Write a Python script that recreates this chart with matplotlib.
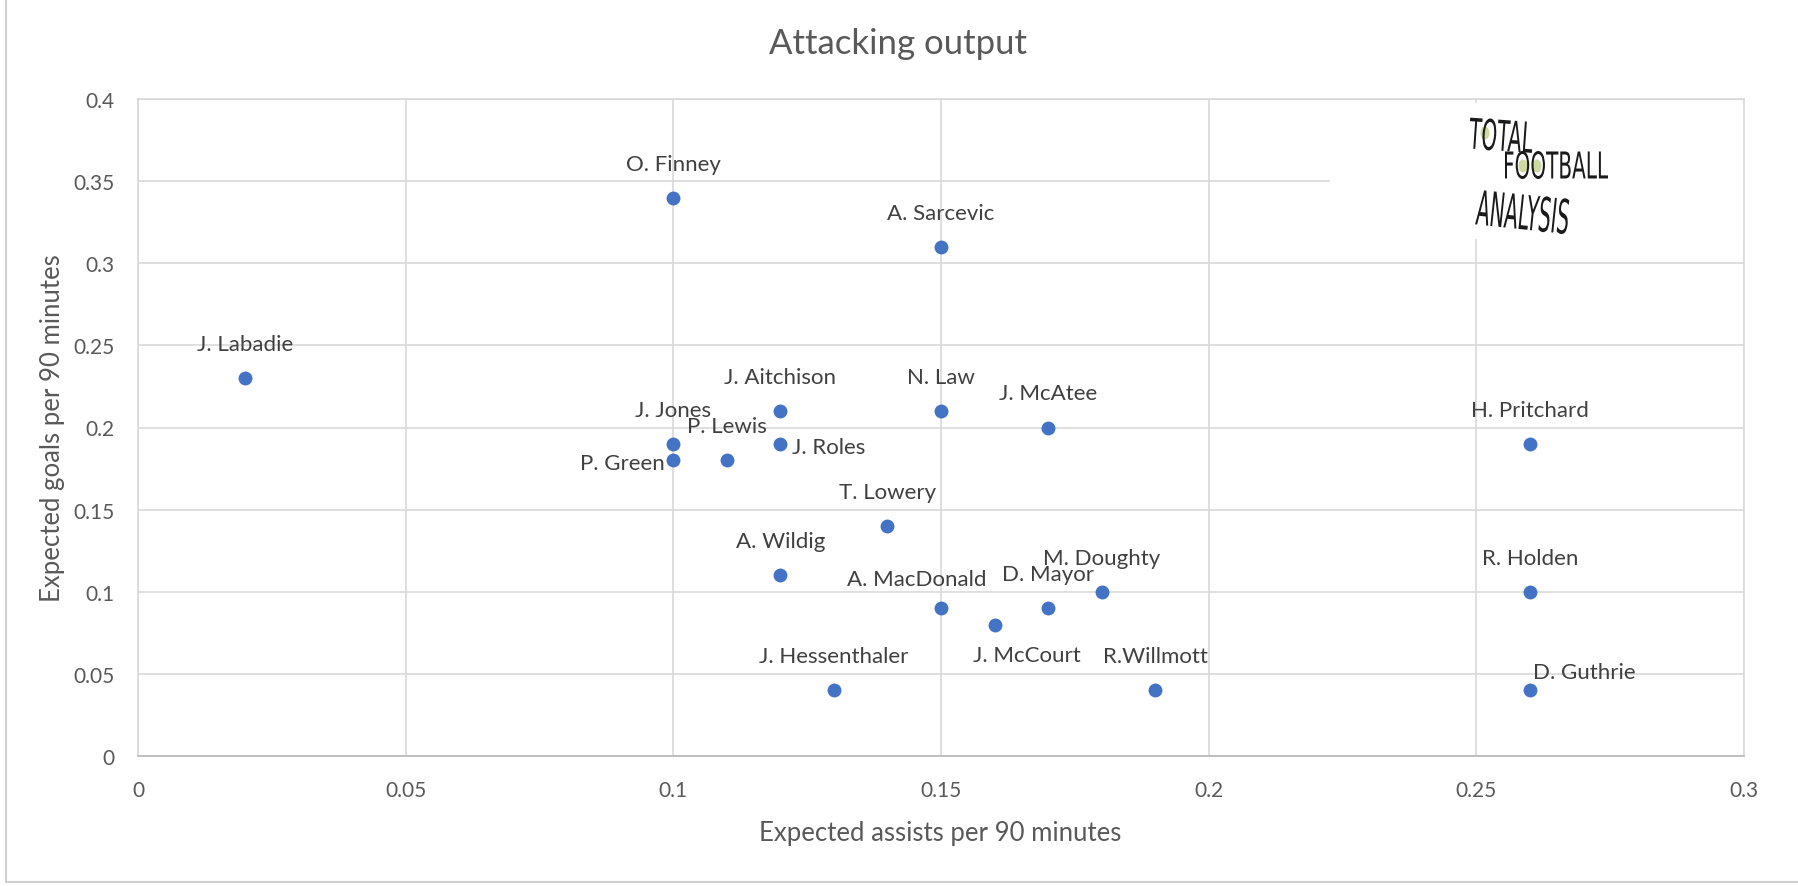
import matplotlib
matplotlib.use("Agg")
import matplotlib.pyplot as plt
from matplotlib.patches import Rectangle, PathPatch, Ellipse
from matplotlib.textpath import TextPath
from matplotlib.font_manager import FontProperties
from matplotlib.transforms import Affine2D
from matplotlib.lines import Line2D

# ---- data ----
players = ["J. Labadie", "O. Finney", "A. Sarcevic", "J. Aitchison", "N. Law",
           "J. McAtee", "H. Pritchard", "J. Jones", "P. Lewis", "J. Roles",
           "P. Green", "T. Lowery", "A. Wildig", "A. MacDonald", "D. Mayor",
           "M. Doughty", "J. McCourt", "R. Holden", "J. Hessenthaler",
           "R.Willmott", "D. Guthrie"]
xa = [0.02, 0.10, 0.15, 0.12, 0.15, 0.17, 0.26, 0.10, 0.11, 0.12,
      0.10, 0.14, 0.12, 0.15, 0.17, 0.18, 0.16, 0.26, 0.13, 0.19, 0.26]
xg = [0.23, 0.34, 0.31, 0.21, 0.21, 0.20, 0.19, 0.19, 0.18, 0.19,
      0.18, 0.14, 0.11, 0.09, 0.09, 0.10, 0.08, 0.10, 0.04, 0.04, 0.04]
xticks = [0, 0.05, 0.1, 0.15, 0.2, 0.25, 0.3]
xtick_labels = ["0", "0.05", "0.1", "0.15", "0.2", "0.25", "0.3"]
yticks = [0, 0.05, 0.1, 0.15, 0.2, 0.25, 0.3, 0.35, 0.4]
ytick_labels = ["0", "0.05", "0.1", "0.15", "0.2", "0.25", "0.3", "0.35", "0.4"]

# label placement (offset pixels, alignment) - layout only
label_layout = {
    "P. Green": (-9, -3, "right"),
    "J. Roles": (12, -3, "left"),
    "A. MacDonald": (-24, 29, "center"),
    "J. McCourt": (32, -30, "center"),
    "D. Guthrie": (54, 18, "center"),
}

FONT = ["Lato", "DejaVu Sans"]
plt.rcParams["font.family"] = FONT

W, H = 1798, 887
fig = plt.figure(figsize=(W / 100, H / 100), dpi=100)
fig.patch.set_facecolor("white")

left, right, top, bottom = 138, 1744, 100, 757
ax = fig.add_axes([left / W, 1 - bottom / H, (right - left) / W, (bottom - top) / H])
ax.set_xlim(0, 0.3)
ax.set_ylim(0, 0.4)
ax.set_xticks(xticks)
ax.set_xticklabels(xtick_labels)
ax.set_yticks(yticks)
ax.set_yticklabels(ytick_labels)
ax.tick_params(length=0, labelsize=15, labelcolor="#595959")
ax.tick_params(axis="x", pad=17)
ax.tick_params(axis="y", pad=17)
ax.grid(True, color="#d9d9d9", linewidth=1.2, zorder=0)
ax.set_axisbelow(True)
for s in ["top", "right", "left"]:
    ax.spines[s].set_color("#d9d9d9")
    ax.spines[s].set_linewidth(1.2)
ax.spines["bottom"].set_color("#bfbfbf")
ax.spines["bottom"].set_linewidth(1.4)

# white box behind logo (covers gridlines)
ax.add_patch(Rectangle((0.7425, 0.787), 0.26, 0.207, transform=ax.transAxes,
                       facecolor="white", edgecolor="none", zorder=1, clip_on=False))

ax.scatter(xa, xg, s=100, color="#4472C4", zorder=3, linewidths=0)

for name, x, y in zip(players, xa, xg):
    dx, dy, ha = label_layout.get(name, (0, 34, "center"))
    ax.annotate(name, (x, y), xytext=(dx, dy), textcoords="offset pixels",
                ha=ha, va="center", fontsize=16, color="#404040", zorder=4)

ax.set_xlabel("Expected assists per 90 minutes", fontsize=18.5, color="#595959")
ax.xaxis.set_label_coords((940 - left) / (right - left), -(821 - bottom) / (bottom - top))
ax.set_ylabel("Expected goals per 90 minutes", fontsize=18.5, color="#595959")
ax.yaxis.set_label_coords(-(left - 65) / (right - left), (bottom - 428) / (bottom - top))

fig.text(898 / W, 1 - 44 / H, "Attacking output", ha="center", va="center",
         fontsize=25, color="#595959")

# chart border lines (left and bottom)
fig.add_artist(Line2D([6 / W, 6 / W], [4 / H, 1.0], color="#d0d0d0", lw=1.5))
fig.add_artist(Line2D([6 / W, 1.0], [4 / H, 4 / H], color="#d0d0d0", lw=1.5))

# logo drawn as squashed text paths (pixel coordinates)
pix = Affine2D().scale(1, -1).translate(0, H)  # top-left pixel coords -> display
for cx, cy in [(1485, 134), (1523, 167), (1537, 167)]:
    fig.add_artist(Ellipse((cx, cy), 9, 13, transform=pix,
                           facecolor="#cdd9a0", edgecolor="none", zorder=9))

fp = FontProperties(family="DejaVu Sans")
def logo_word(word, x0, y0_top, wpx, hpx, rot=0):
    tp = TextPath((0, 0), word, size=100, prop=fp)
    bb = tp.get_extents()
    sx = wpx / bb.width
    sy = hpx / bb.height
    tr = (Affine2D().translate(-bb.x0, -bb.y0).scale(sx, sy).rotate_deg(rot)
          .translate(x0, H - y0_top - hpx))
    fig.add_artist(PathPatch(tp, transform=tr, facecolor="#1a1a1a",
                             edgecolor="none", zorder=10))

logo_word("TOTAL", 1468, 118, 64, 32, rot=-4)
logo_word("FOOTBALL", 1505, 152, 103, 28)
logo_word("ANALYSIS", 1475, 190, 92, 36, rot=-6)

fig.savefig("out.png", dpi=100, facecolor="white")
